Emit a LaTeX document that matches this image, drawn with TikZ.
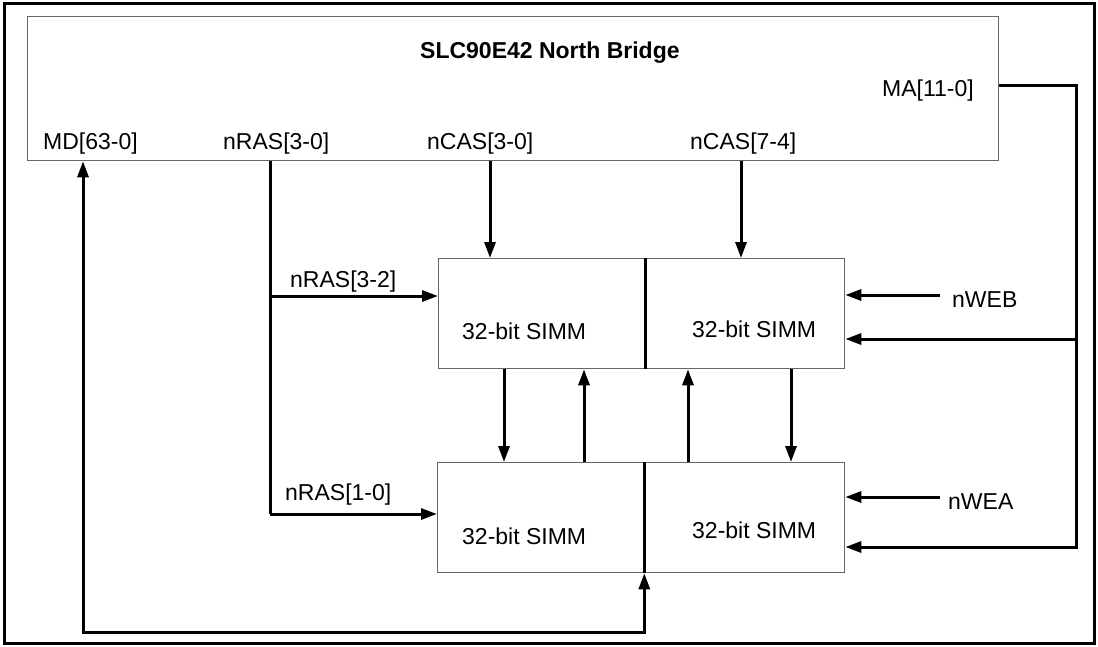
\documentclass[tikz,border=0pt]{standalone}
\usepackage{fontspec}
\setmainfont{Liberation Sans}
\usetikzlibrary{arrows.meta}
\begin{document}
\begin{tikzpicture}[x=1pt,y=-1pt,
  wire/.style={line width=3pt},
  tipA/.tip={Triangle[length=16pt,width=11pt]},
  arr/.style={wire,-tipA},
  box/.style={draw=black!60, line width=1.3pt, rectangle, inner sep=0pt, anchor=north west},
  lbl/.style={font=\fontsize{23}{27}\selectfont, inner sep=0pt, anchor=base west}]
\useasboundingbox (0,0) rectangle (1098,646);
\draw[line width=3.2pt] (4.5,3.5) rectangle (1094.5,643.5);

% boxes
\node[box, minimum width=971pt, minimum height=144pt] (nb) at (27,16) {};
\node[box, minimum width=206pt, minimum height=110pt] (tl) at (438,258) {};
\node[box, minimum width=200pt, minimum height=110pt] (tr) at (644,258) {};
\node[box, minimum width=206pt, minimum height=110pt] (bl) at (437,462) {};
\node[box, minimum width=201pt, minimum height=110pt] (br) at (643,462) {};
\draw[wire] (tl.north east) -- (tl.south east);
\draw[wire] (bl.north east) -- (bl.south east);

% texts
\node[lbl, font=\fontsize{23}{27}\selectfont\bfseries] (title) at (420,58) {SLC90E42 North Bridge};
\node[lbl] (tlt) at (462,339) {32-bit SIMM};
\node[lbl] (trt) at (692,337) {32-bit SIMM};
\node[lbl] (blt) at (462,544) {32-bit SIMM};
\node[lbl] (brt) at (692,538) {32-bit SIMM};
\node[lbl] (mdl) at (43,149) {MD[63-0]};
\node[lbl] (ras30) at (223,149) {nRAS[3-0]};
\node[lbl] (cas30) at (427,149) {nCAS[3-0]};
\node[lbl] (cas74) at (690,149) {nCAS[7-4]};
\node[lbl, anchor=base east] (mal) at (974,96) {MA[11-0]};
\node[lbl] (ras32) at (290,287) {nRAS[3-2]};
\node[lbl] (ras10) at (285,500) {nRAS[1-0]};
\node[lbl] (web) at (952,307) {nWEB};
\node[lbl] (wea) at (948,509) {nWEA};

% helper coordinates
\coordinate (c30) at (490,0);
\coordinate (c74) at (741,0);
\coordinate (ras) at (270,0);
\coordinate (r32) at (0,296);
\coordinate (r10) at (0,514);
\coordinate (d1) at (504,0);
\coordinate (u1) at (584,0);
\coordinate (u2) at (688,0);
\coordinate (d2) at (791,0);
\coordinate (mabus) at (1076,85);
\coordinate (ma1) at (0,339);
\coordinate (ma2) at (0,547);
\coordinate (webend) at (940,295);
\coordinate (weaend) at (940,497);
\coordinate (mdx) at (83,632);

% connectors
\draw[arr] (c30 |- nb.south) -- (c30 |- tl.north);
\draw[arr] (c74 |- nb.south) -- (c74 |- tr.north);
\draw[wire] (ras |- nb.south) -- (ras |- r10);
\draw[arr] (ras |- r32) -- (tl.west |- r32);
\draw[arr] (ras |- r10) -- (bl.west |- r10);
\draw[arr] (d1 |- tl.south) -- (d1 |- bl.north);
\draw[arr] (u1 |- bl.north) -- (u1 |- tl.south);
\draw[arr] (u2 |- br.north) -- (u2 |- tr.south);
\draw[arr] (d2 |- tr.south) -- (d2 |- br.north);
\draw[arr] (nb.east |- mabus) -- (mabus) |- (br.east |- ma2);
\draw[arr] (mabus |- ma1) -- (tr.east |- ma1);
\draw[arr] (webend) -- (tr.east |- webend);
\draw[arr] (weaend) -- (br.east |- weaend);
\draw[wire, tipA-tipA] (nb.south -| mdx) -- (mdx) -| (bl.south east);
\end{tikzpicture}
\end{document}
